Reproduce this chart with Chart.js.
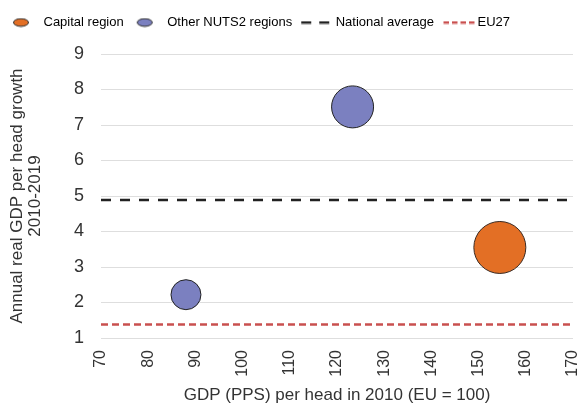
<!DOCTYPE html>
<html>
<head>
<meta charset="utf-8">
<script src="https://cdn.jsdelivr.net/npm/chart.js@4.4.1/dist/chart.umd.min.js"></script>
<style>
  html, body { margin: 0; padding: 0; background: #fff; }
  #wrap { width: 584px; height: 408px; }
</style>
</head>
<body>
<div id="wrap"><canvas id="myChart"></canvas></div>
<script>
// Capital region bubble
const capitalX = [154.5];
const capitalY = [3.55];
const capitalSize = [26];

// Other NUTS2 regions bubbles
const otherX = [88, 123.3];
const otherY = [2.22, 7.51];
const otherSize = [15, 21];

// reference lines
const nationalAverage = 4.89;
const eu27Average = 1.38;

// axes
const xTicks = [70, 80, 90, 100, 110, 120, 130, 140, 150, 160, 170];
const yTicks = [1, 2, 3, 4, 5, 6, 7, 8, 9];

const legendNames = ['Capital region', 'Other NUTS2 regions', 'National average', 'EU27'];

Chart.defaults.font.family = "'Liberation Sans', Arial, sans-serif";
Chart.defaults.color = '#333';

// petits dessins pour la légende (canvas de 44 px, centré sur la case)
function ellipseIcon(fill) {
  const c = document.createElement('canvas');
  c.width = 44; c.height = 10;
  const g = c.getContext('2d');
  g.beginPath();
  g.ellipse(21, 5, 7.5, 3.8, 0, 0, Math.PI * 2);
  g.fillStyle = fill;
  g.fill();
  g.strokeStyle = '#2b2b2b';
  g.lineWidth = 1;
  g.stroke();
  return c;
}

function dashIcon(color, dash, from, to) {
  const c = document.createElement('canvas');
  c.width = 44; c.height = 4;
  const g = c.getContext('2d');
  g.setLineDash(dash);
  g.strokeStyle = color;
  g.lineWidth = 2.5;
  g.beginPath();
  g.moveTo(from, 2);
  g.lineTo(to, 2);
  g.stroke();
  return c;
}

const legendIcons = [
  ellipseIcon('#e36f25'),
  ellipseIcon('#7b80c0'),
  dashIcon('#222', [10, 8], 9, 37),
  dashIcon('#c9504f', [5.5, 3], 9.5, 41.5)
];

const xMin = xTicks[0], xMax = xTicks[xTicks.length - 1];

const data = {
  datasets: [
    {
      label: legendNames[0],
      type: 'bubble',
      data: capitalX.map((x, i) => ({ x: x, y: capitalY[i], r: capitalSize[i] })),
      backgroundColor: '#e36f25',
      borderColor: '#3a2a22',
      borderWidth: 1,
      order: 1
    },
    {
      label: legendNames[1],
      type: 'bubble',
      data: otherX.map((x, i) => ({ x: x, y: otherY[i], r: otherSize[i] })),
      backgroundColor: '#7b80c0',
      borderColor: '#222',
      borderWidth: 1,
      order: 1
    },
    {
      label: legendNames[2],
      type: 'line',
      data: [{ x: xMin, y: nationalAverage }, { x: xMax, y: nationalAverage }],
      borderColor: '#222',
      borderWidth: 2.5,
      borderDash: [10, 9],
      pointRadius: 0,
      fill: false,
      order: 2
    },
    {
      label: legendNames[3],
      type: 'line',
      data: [{ x: xMin, y: eu27Average }, { x: xMax, y: eu27Average }],
      borderColor: '#c9504f',
      borderWidth: 2.5,
      borderDash: [7, 4],
      pointRadius: 0,
      fill: false,
      order: 2
    }
  ]
};

// hauteur fixe pour la légende
const legendHeight = {
  id: 'legendHeight',
  beforeInit(chart) {
    const fit = chart.legend.fit;
    chart.legend.fit = function () {
      fit.bind(chart.legend)();
      this.height = 45;
    };
  }
};

const config = {
  type: 'bubble',
  data: data,
  plugins: [legendHeight],
  options: {
    responsive: true,
    maintainAspectRatio: false,
    animation: false,
    layout: { autoPadding: false, padding: { top: 9, right: 11, left: 0, bottom: 0 } },
    plugins: {
      tooltip: { enabled: false },
      legend: {
        position: 'top',
        align: 'start',
        labels: {
          usePointStyle: true,
          pointStyleWidth: 30,
          boxHeight: 10,
          padding: 7,
          color: '#333',
          font: { size: 13 },
          generateLabels: () => legendNames.map((name, i) => ({
            text: name,
            pointStyle: legendIcons[i],
            fillStyle: 'transparent',
            strokeStyle: 'transparent',
            lineWidth: 0,
            hidden: false,
            datasetIndex: i
          }))
        }
      }
    },
    scales: {
      x: {
        type: 'linear',
        min: xMin,
        max: xMax,
        afterBuildTicks: axis => { axis.ticks = xTicks.map(v => ({ value: v })); },
        afterFit: axis => { axis.height = 70; axis.paddingLeft = 0; axis.paddingRight = 0; },
        grid: { display: false, drawTicks: false },
        border: { display: false },
        ticks: { minRotation: 90, maxRotation: 90, autoSkip: false, padding: 12, font: { size: 16 }, color: '#333' },
        title: {
          display: true,
          text: 'GDP (PPS) per head in 2010 (EU = 100)',
          font: { size: 17 },
          color: '#333',
          padding: { top: 0, bottom: 2 }
        }
      },
      y: {
        min: yTicks[0],
        max: yTicks[yTicks.length - 1],
        afterBuildTicks: axis => { axis.ticks = yTicks.map(v => ({ value: v })); },
        afterFit: axis => { axis.width = 101; },
        grid: { color: '#dedede', lineWidth: 1, drawTicks: false },
        border: { display: false },
        ticks: { padding: 17, font: { size: 18 }, color: '#333' },
        title: {
          display: true,
          text: ['Annual real GDP per head growth', '2010-2019'],
          font: { size: 17, lineHeight: 1.06 },
          color: '#333',
          padding: { top: 8, bottom: 0 }
        }
      }
    }
  }
};

const ctx = document.getElementById('myChart').getContext('2d');
const myChart = new Chart(ctx, config);
</script>
</body>
</html>
